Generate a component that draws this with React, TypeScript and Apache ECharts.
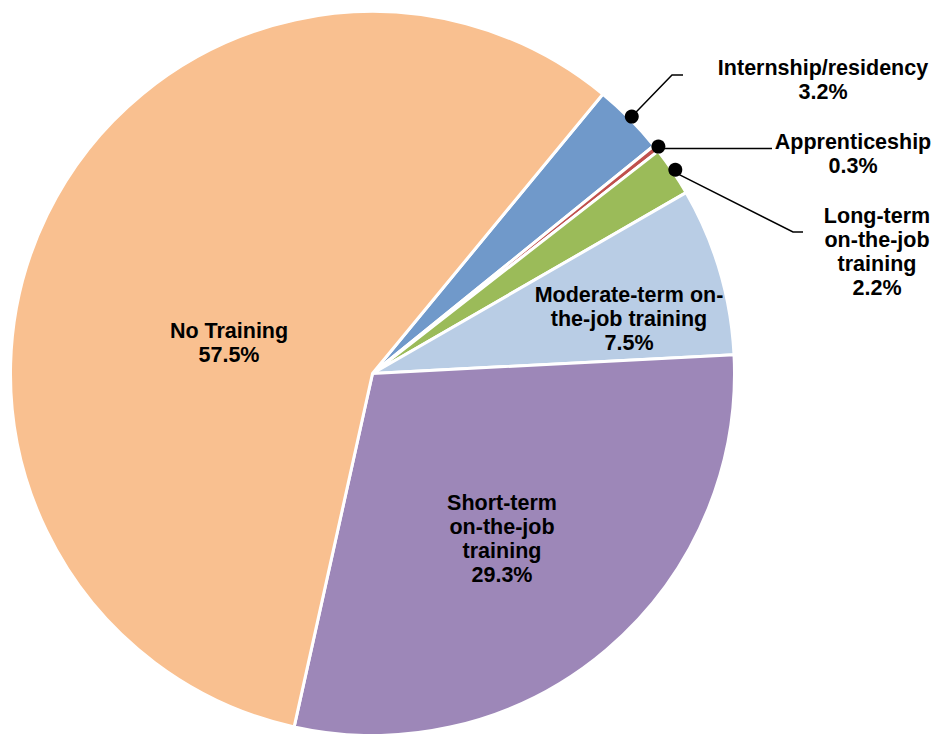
import React, { useEffect, useRef } from "react";
import * as echarts from "echarts";

// ---- data ----
const categories = [
  "Internship/residency",
  "Apprenticeship",
  "Long-term on-the-job training",
  "Moderate-term on-the-job training",
  "Short-term on-the-job training",
  "No Training",
];
const labelTexts = [
  "Internship/residency",
  "Apprenticeship",
  "Long-term\non-the-job\ntraining",
  "Moderate-term on-\nthe-job training",
  "Short-term\non-the-job\ntraining",
  "No Training",
];
const shares = [3.2, 0.3, 2.2, 7.5, 29.3, 57.5];
const colors = ["#7099CA", "#C0504D", "#9BBB59", "#B9CDE5", "#9D87B8", "#F9C090"];
const outsideLabeled = [true, true, true, false, false, false];

// ---- layout ----
const CX = 372.5;
const CY = 373.5;
const R = 362;
const START = 50.5;
const DOT_R = 365;
const labelPos: [number, number][] = [
  [823, 80],
  [853, 154],
  [877, 252],
  [629, 319],
  [502, 539],
  [229, 343],
];

export default function App() {
  const ref = useRef<HTMLDivElement>(null);
  useEffect(() => {
    if (!ref.current) return;
    const chart = echarts.init(ref.current, undefined, { renderer: "svg" });
    const total = shares.reduce((a, b) => a + b, 0);
    const dots: [number, number][] = [];
    let cum = 0;
    shares.forEach((v, i) => {
      if (outsideLabeled[i]) dots.push([DOT_R, ((cum + v / 2) / total) * 100]);
      cum += v;
    });
    const font = {
      color: "#000",
      fontWeight: "bold" as const,
      fontFamily: "'Liberation Sans', Arial, sans-serif",
      fontSize: 21.5,
      lineHeight: 24,
      align: "center" as const,
    };
    chart.setOption({
      animation: false,
      backgroundColor: "#fff",
      polar: { center: [CX, CY], radius: 368 },
      angleAxis: {
        type: "value",
        min: 0,
        max: 100,
        startAngle: START,
        clockwise: true,
        show: false,
        axisLine: { show: false },
        axisTick: { show: false },
        axisLabel: { show: false },
        splitLine: { show: false },
      },
      radiusAxis: {
        type: "value",
        min: 0,
        max: 368,
        show: false,
        axisLine: { show: false },
        axisTick: { show: false },
        axisLabel: { show: false },
        splitLine: { show: false },
      },
      series: [
        {
          type: "pie",
          center: [CX, CY],
          radius: R,
          startAngle: START,
          clockwise: true,
          avoidLabelOverlap: false,
          itemStyle: { borderColor: "#fff", borderWidth: 3 },
          labelLine: { lineStyle: { color: "#000", width: 1.5 }, smooth: false },
          data: categories.map((name, i) => ({
            name,
            value: shares[i],
            itemStyle: { color: colors[i] },
            label: {
              show: true,
              position: outsideLabeled[i] ? "outside" : "inside",
              formatter: () => `${labelTexts[i]}\n${shares[i].toFixed(1)}%`,
              ...font,
            },
            labelLine: { show: outsideLabeled[i], length: 30, length2: 10 },
          })),
          labelLayout: (params: any) => {
            const i = params.dataIndex;
            const p = labelPos[i];
            const res: any = { x: p[0], y: p[1], align: "center", verticalAlign: "middle" };
            if (outsideLabeled[i] && params.labelLinePoints) {
              const s = params.labelLinePoints[0];
              if (i === 0) res.labelLinePoints = [s, [672, 75], [683, 75]];
              else if (i === 1) res.labelLinePoints = [s, [720, s[1]], [772, s[1]]];
              else res.labelLinePoints = [s, [793, 232], [803, 232]];
            }
            return res;
          },
          emphasis: { disabled: true },
        },
        {
          type: "scatter",
          coordinateSystem: "polar",
          data: dots,
          symbol: "circle",
          symbolSize: 14,
          itemStyle: { color: "#000", opacity: 1 },
          z: 10,
          silent: true,
        },
      ],
    });
    return () => chart.dispose();
  }, []);
  return (
    <div
      ref={ref}
      style={{ position: "absolute", left: 0, top: 0, width: 935, height: 734 }}
    />
  );
}
